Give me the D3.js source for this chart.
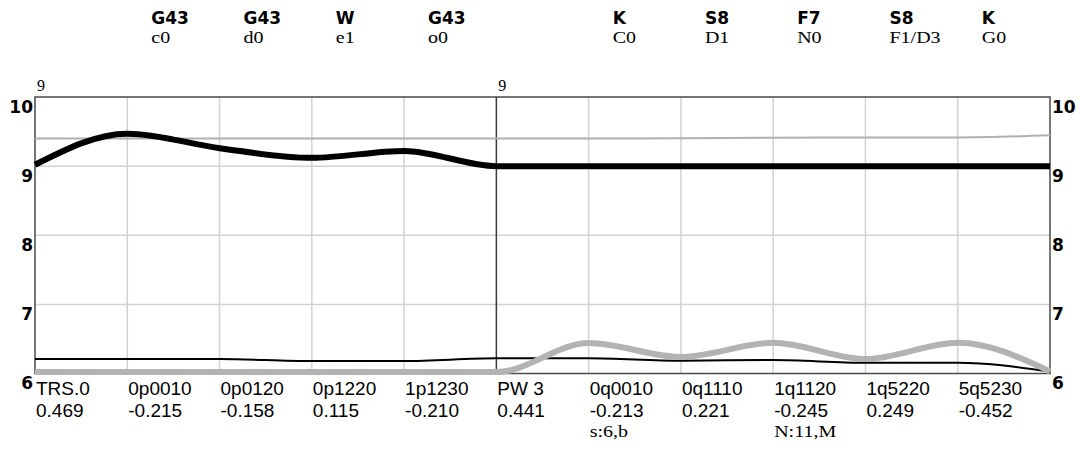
<!DOCTYPE html>
<html>
<head>
<meta charset="utf-8">
<script src="https://cdn.jsdelivr.net/npm/d3@7/dist/d3.min.js"></script>
<style>
  html, body { margin: 0; padding: 0; background: #fff; }
  svg { display: block; }
</style>
</head>
<body>
<svg id="chart" width="1080" height="452"></svg>
<script>
// ---------- data ----------
const categories = ["TRS.0","0p0010","0p0120","0p1220","1p1230","PW 3","0q0010","0q1110","1q1120","1q5220","5q5230"];
const categoryValues = ["0.469","-0.215","-0.158","0.115","-0.210","0.441","-0.213","0.221","-0.245","0.249","-0.452"];
const categoryNotes = ["","","","","","","s:6,b","","N:11,M","",""];
const topCodes = ["","G43","G43","W","G43","","K","S8","F7","S8","K"];
const topSubs  = ["","c0","d0","e1","o0","","C0","D1","N0","F1/D3","G0"];
const sectionMarks = ["9","","","","","9","","","","",""];
const yTicks = [6, 7, 8, 9, 10];

const thickBlack = [9.02, 9.47, 9.26, 9.12, 9.22, 9.00, 9.00, 9.00, 9.00, 9.00, 9.00, 9.00];
const thinGray   = [9.40, 9.40, 9.40, 9.40, 9.40, 9.40, 9.40, 9.405, 9.41, 9.415, 9.415, 9.445];
const thinBlack  = [6.21, 6.21, 6.21, 6.18, 6.18, 6.22, 6.22, 6.185, 6.195, 6.155, 6.155, 6.03];
const thickGray  = [6.02, 6.02, 6.02, 6.02, 6.02, 6.02, 6.44, 6.24, 6.445, 6.21, 6.445, 6.03];

// ---------- layout ----------
const plotBox = { left: 35, right: 1050, top: 97, bottom: 373.5 };
const svg = d3.select("#chart");

const x = d3.scaleLinear().domain([0, thickBlack.length - 1]).range([plotBox.left, plotBox.right]);
const y = d3.scaleLinear().domain([6, 10]).range([plotBox.bottom, plotBox.top]);

const sans = "'Liberation Sans', Arial, sans-serif";
const boldSans = "'DejaVu Sans', Verdana, sans-serif";
const serif = "'Liberation Serif', 'Times New Roman', serif";
const serifStretch = 1.25;

// grid
const idx = d3.range(1, thickBlack.length - 1);
svg.append("g").selectAll("line").data(idx.filter(i => i !== 5)).join("line")
  .attr("x1", d => x(d)).attr("x2", d => x(d))
  .attr("y1", plotBox.top).attr("y2", plotBox.bottom)
  .attr("stroke", "#d2d2d2").attr("stroke-width", 1.5);
svg.append("g").selectAll("line").data([7, 8, 9]).join("line")
  .attr("x1", plotBox.left).attr("x2", plotBox.right)
  .attr("y1", d => y(d)).attr("y2", d => y(d))
  .attr("stroke", "#d2d2d2").attr("stroke-width", 1.5);

// frame + section divider
svg.append("rect")
  .attr("x", plotBox.left).attr("y", plotBox.top)
  .attr("width", plotBox.right - plotBox.left).attr("height", plotBox.bottom - plotBox.top)
  .attr("fill", "none").attr("stroke", "#4a4a4a").attr("stroke-width", 1.5);
svg.append("line")
  .attr("x1", x(5)).attr("x2", x(5)).attr("y1", plotBox.top).attr("y2", plotBox.bottom)
  .attr("stroke", "#3a3a3a").attr("stroke-width", 1.5);

// series
const line = d3.line().x((d, i) => x(i)).y(d => y(d)).curve(d3.curveMonotoneX);
const series = [
  { data: thinGray,   color: "#b0b0b0", width: 2 },
  { data: thickBlack, color: "#000000", width: 6 },
  { data: thinBlack,  color: "#000000", width: 2 },
  { data: thickGray,  color: "#b3b3b3", width: 6 }
];
svg.append("g").selectAll("path").data(series).join("path")
  .attr("d", d => line(d.data))
  .attr("fill", "none")
  .attr("stroke", d => d.color)
  .attr("stroke-width", d => d.width)
  .attr("stroke-linejoin", "round");

// y axes
const axL = d3.axisLeft(y).tickValues(yTicks).tickSize(0).tickPadding(2).tickFormat(d3.format("d"));
const axR = d3.axisRight(y).tickValues(yTicks).tickSize(0).tickPadding(2).tickFormat(d3.format("d"));
function styleAxis(g) {
  g.select(".domain").remove();
  g.selectAll("text")
    .attr("dy", "0.9em")
    .style("font-family", boldSans).style("font-weight", "bold").style("font-size", "17px")
    .attr("fill", "#000");
}
svg.append("g").attr("transform", `translate(${plotBox.left},0)`).call(axL).call(styleAxis);
svg.append("g").attr("transform", `translate(${plotBox.right},0)`).call(axR).call(styleAxis);

// bottom category labels
const bottomG = svg.append("g");
bottomG.selectAll("text.cat").data(categories).join("text").attr("class", "cat")
  .attr("x", (d, i) => x(i) + 1).attr("y", 395)
  .style("font-family", sans).style("font-size", "19px").text(d => d);
bottomG.selectAll("text.val").data(categoryValues).join("text").attr("class", "val")
  .attr("x", (d, i) => x(i) + 1).attr("y", 417)
  .style("font-family", sans).style("font-size", "19px").text(d => d);
bottomG.selectAll("text.note").data(categoryNotes).join("text").attr("class", "note")
  .attr("transform", (d, i) => `translate(${x(i) + 1},437) scale(${serifStretch},1)`)
  .style("font-family", serif).style("font-size", "16px").text(d => d);

// top labels
const topG = svg.append("g");
topG.selectAll("text.code").data(topCodes).join("text").attr("class", "code")
  .attr("x", (d, i) => x(i) + 24).attr("y", 24)
  .style("font-family", boldSans).style("font-weight", "bold").style("font-size", "17px").text(d => d);
topG.selectAll("text.sub").data(topSubs).join("text").attr("class", "sub")
  .attr("transform", (d, i) => `translate(${x(i) + 24},43) scale(${serifStretch},1)`)
  .style("font-family", serif).style("font-size", "16px").text(d => d);
topG.selectAll("text.mark").data(sectionMarks).join("text").attr("class", "mark")
  .attr("x", (d, i) => x(i) + 2).attr("y", 91)
  .style("font-family", serif).style("font-size", "16px").text(d => d);
</script>
</body>
</html>
